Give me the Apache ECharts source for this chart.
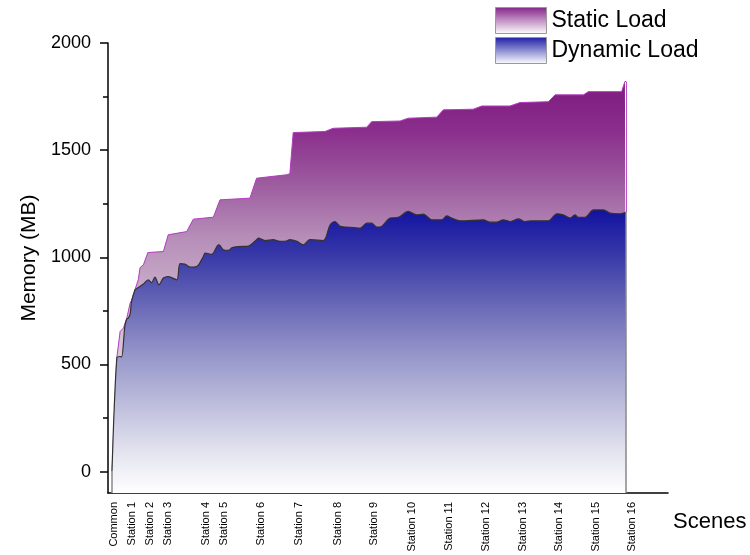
<!DOCTYPE html>
<html>
<head>
<meta charset="utf-8">
<script src="https://cdn.jsdelivr.net/npm/echarts@6/dist/echarts.min.js"></script>
<style>html,body{margin:0;padding:0;background:#fff}#c{width:750px;height:555px}</style>
</head>
<body>
<div id="c"></div>
<script>
// Scene labels and their positions along the scene axis
const sceneNames = ['Common','Station 1','Station 2','Station 3','Station 4','Station 5','Station 6','Station 7','Station 8','Station 9','Station 10','Station 11','Station 12','Station 13','Station 14','Station 15','Station 16'];
const scenePos = [0.4,5.5,10.4,15.1,25.3,30.2,40.3,50.6,61,70.9,81,91,101,111,121,131,140.6];

// Static load (total memory) samples
const staticX = [0,1.3,2.2,3.1,4.0,4.9,5.3,6.2,7.1,7.6,8.5,9.7,13.9,15.2,20.2,22.0,27.4,29.2,37.3,39.1,47.2,48.1,49.0,57.6,59.8,68.9,70.2,77.9,80.1,87.8,89.6,97.7,100.0,107.6,110.3,118.0,119.8,127.5,128.8,137.8,138.7,139.0];
const staticY = [0,530,654,670,716,786,799,848,895,952,965,1022,1027,1105,1120,1178,1187,1268,1276,1369,1385,1390,1582,1587,1602,1607,1633,1636,1649,1654,1688,1691,1706,1706,1722,1726,1758,1758,1773,1773,1820,1820];

// Dynamic load samples
const dynX = [0,1.3,2.2,2.6,3.5,4.0,4.4,4.9,5.3,6.2,6.5,8.5,9.8,10.7,11.6,12.7,13.9,15.2,17.5,18.4,19.7,21.1,22.0,23.3,24.7,25.2,27.0,28.8,29.2,30.1,31.5,32.5,34.2,36.9,39.1,39.6,41.4,43.6,45.4,47.2,48.1,50.0,51.7,53.5,57.1,59.0,60.3,61.7,63.5,67.1,68.9,70.2,71.6,72.9,75.2,77.4,80.1,82.4,84.2,86.5,89.2,90.5,91.9,94.1,100.4,102.2,104.0,105.8,107.6,109.9,111.7,113.5,118.0,120.3,122.0,123.9,125.2,126.1,127.9,130.2,132.9,134.7,137.4,139.0];
const dynY = [0,531,537,535,680,712,716,735,794,848,852,875,895,882,907,872,903,910,895,970,968,954,954,962,1004,1019,1014,1058,1055,1035,1032,1045,1050,1052,1082,1089,1078,1082,1074,1076,1082,1074,1058,1082,1078,1152,1167,1144,1141,1136,1159,1159,1141,1144,1183,1186,1214,1198,1201,1175,1175,1193,1183,1170,1175,1164,1164,1175,1167,1179,1167,1170,1170,1203,1198,1183,1198,1186,1186,1221,1221,1206,1203,1210];

// Y-axis ticks
const yMajor = [0,500,1000,1500,2000];
const yMinor = [250,750,1250,1750];
const yMin = -100, yMax = 2000;

const FONT = 'Liberation Sans, Arial, sans-serif';
const pair = (xs, ys) => xs.map((x, i) => [x, ys[i]]);
const grad = stops => ({type:'linear', x:0, y:0, x2:0, y2:1, colorStops: stops.map(s => ({offset:s[0], color:s[1]}))});

const purpleFill = grad([[0,'#7E1A80'],[0.12,'#8A2E8C'],[0.23,'#9A559C'],[0.38,'#B68EB8'],[0.5,'#C8AAC8'],[1,'#FFFFFF']]);
const blueFill = grad([[0,'#1212A0'],[0.15,'#3636A8'],[0.35,'#6C6CB8'],[0.5,'#9393C9'],[0.7,'#C0C0DE'],[0.85,'#E2E2EF'],[1,'#FFFFFF']]);
const purpleLegend = grad([[0,'#842488'],[1,'#FFFFFF']]);
const blueLegend = grad([[0,'#1C1CA6'],[1,'#FFFFFF']]);

const lastX = dynX[dynX.length-1];
const lastDyn = dynY[dynY.length-1];
const lastStatic = staticY[staticY.length-1];

const chart = echarts.init(document.getElementById('c'), null, {renderer:'canvas'});
chart.setOption({
  animation: false,
  backgroundColor: '#ffffff',
  textStyle: {fontFamily: FONT},
  grid: {left:108, right:82, top:43, bottom:62, containLabel:false},
  legend: {
    orient:'vertical', left:490, top:2, itemWidth:51, itemHeight:26, itemGap:3,
    icon:'rect',
    textStyle:{fontSize:23, color:'#000', fontFamily:FONT},
    data:[
      {name:'Static Load', itemStyle:{color:purpleLegend, borderColor:'#999', borderWidth:1}},
      {name:'Dynamic Load', itemStyle:{color:blueLegend, borderColor:'#999', borderWidth:1}}
    ]
  },
  xAxis: {
    type:'value', min:-1.08, max:150.35,
    name:'Scenes', nameLocation:'end', nameGap:5,
    nameTextStyle:{fontSize:22, color:'#000', verticalAlign:'top', padding:[18,0,0,0]},
    axisLine:{show:true, onZero:false, lineStyle:{color:'#000', width:1.5}},
    axisTick:{show:false},
    splitLine:{show:false},
    axisLabel:{
      customValues: scenePos, rotate:90, fontSize:11, color:'#000', margin:9,
      formatter: v => { const i = scenePos.indexOf(v); return i >= 0 ? sceneNames[i] : ''; }
    }
  },
  yAxis: [
    {
      type:'value', min:yMin, max:yMax, position:'left',
      name:'Memory (MB)', nameLocation:'middle', nameGap:66, nameRotate:90,
      nameTextStyle:{fontSize:21, color:'#000', padding:[0,0,0,20]},
      axisLine:{show:true, onZero:false, lineStyle:{color:'#000', width:1.5}},
      axisTick:{show:true, inside:false, length:8, customValues:yMajor, lineStyle:{color:'#000', width:1.5}},
      axisLabel:{customValues:yMajor, fontSize:18, color:'#000', margin:17, formatter: v => String(v)},
      splitLine:{show:false}
    },
    {
      type:'value', min:yMin, max:yMax, position:'left', offset:0,
      axisLine:{show:false, onZero:false},
      axisTick:{show:true, inside:false, length:5, customValues:yMinor, lineStyle:{color:'#000', width:1.5}},
      axisLabel:{show:false},
      splitLine:{show:false}
    }
  ],
  series: [
    {
      name:'Static Load', type:'line', yAxisIndex:0, z:2,
      data: pair(staticX, staticY),
      showSymbol:false, symbol:'none',
      lineStyle:{color:'#B23CBE', width:1},
      itemStyle:{color:'#8A2A8C'},
      areaStyle:{color:purpleFill, origin:'start', opacity:1},
      markLine:{
        silent:true, symbol:'none', label:{show:false},
        lineStyle:{color:'#C050C8', width:1, type:'solid'},
        data:[[{coord:[lastX, lastDyn]},{coord:[lastX, lastStatic]}]]
      }
    },
    {
      name:'Dynamic Load', type:'line', yAxisIndex:0, z:3,
      data: pair(dynX, dynY),
      showSymbol:false, symbol:'none', smooth:0.3,
      lineStyle:{color:'#333333', width:1.2},
      itemStyle:{color:'#2020A8'},
      areaStyle:{color:blueFill, origin:'start', opacity:1},
      markLine:{
        silent:true, symbol:'none', label:{show:false},
        lineStyle:{color:'#888888', width:1.5, type:'solid'},
        data:[
          [{coord:[lastX, yMin]},{coord:[lastX, lastDyn]}],
          [{coord:[dynX[0], yMin]},{coord:[dynX[0], dynY[0]]}]
        ]
      }
    }
  ]
});
</script>
</body>
</html>
